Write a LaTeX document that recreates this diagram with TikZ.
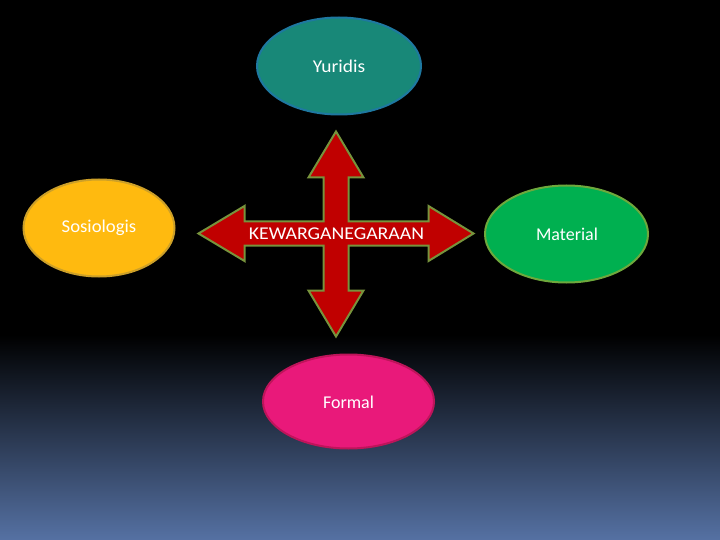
\documentclass[tikz,border=0pt]{standalone}
\usepackage{fontspec}
\setmainfont{Carlito}
\usetikzlibrary{shapes.geometric}
\definecolor{bgblue}{RGB}{85,113,163}
\definecolor{arrred}{RGB}{192,0,0}
\definecolor{arrgreen}{RGB}{119,147,60}
\definecolor{tealfill}{RGB}{24,136,120}
\definecolor{tealdraw}{RGB}{30,120,160}
\definecolor{orfill}{RGB}{255,186,15}
\definecolor{ordraw}{RGB}{205,160,40}
\definecolor{grfill}{RGB}{0,176,80}
\definecolor{grdraw}{RGB}{110,168,60}
\definecolor{pkfill}{RGB}{233,25,122}
\definecolor{pkdraw}{RGB}{190,20,90}
\tikzset{
  lbl/.style={text=white, font=\fontsize{18}{20}\selectfont, inner sep=0pt},
}
\begin{document}
\begin{tikzpicture}[x=1pt,y=-1pt]
\useasboundingbox (0,0) rectangle (720,540);
\fill[black] (0,0) rectangle (720,540);
\shade[top color=black, bottom color=bgblue] (0,335) rectangle (720,540);
% ellipses
\draw[tealdraw, fill=tealfill, line width=2pt] (339,66) ellipse [x radius=82, y radius=48.5];
\draw[ordraw, fill=orfill, line width=2pt] (99,228) ellipse [x radius=75.5, y radius=48.5];
\draw[grdraw, fill=grfill, line width=2pt] (566.5,234) ellipse [x radius=81.5, y radius=48.5];
\draw[pkdraw, fill=pkfill, line width=2pt] (348.5,401.5) ellipse [x radius=85.5, y radius=47];
\node[lbl, xscale=1.08] (yur) at (339,66) {Yuridis};
\node[lbl, xscale=1.04] (sos) at (99,228) {Sosiologis};
\node[lbl] (mat) at (567,234) {Material};
\node[lbl] (for) at (348.5,402) {Formal};
% four-way arrow
\draw[arrgreen, fill=arrred, line width=2pt, line join=miter]
 (336,131.5) -- (363.5,177.5) -- (348.5,177.5) -- (348.5,221.5) -- (428.5,221.5)
 -- (428.5,206) -- (473.5,233.5) -- (428.5,261) -- (428.5,245.5) -- (348.5,245.5)
 -- (348.5,290.5) -- (363.5,290.5) -- (336,336.5) -- (308.5,290.5) -- (323.5,290.5)
 -- (323.5,245.5) -- (244.5,245.5) -- (244.5,261) -- (198.5,233.5) -- (244.5,206)
 -- (244.5,221.5) -- (323.5,221.5) -- (323.5,177.5) -- (308.5,177.5) -- cycle;
\node[lbl, xscale=1.1] (kew) at (336.5,234) {KEWARGANEGARAAN};
\end{tikzpicture}
\end{document}
